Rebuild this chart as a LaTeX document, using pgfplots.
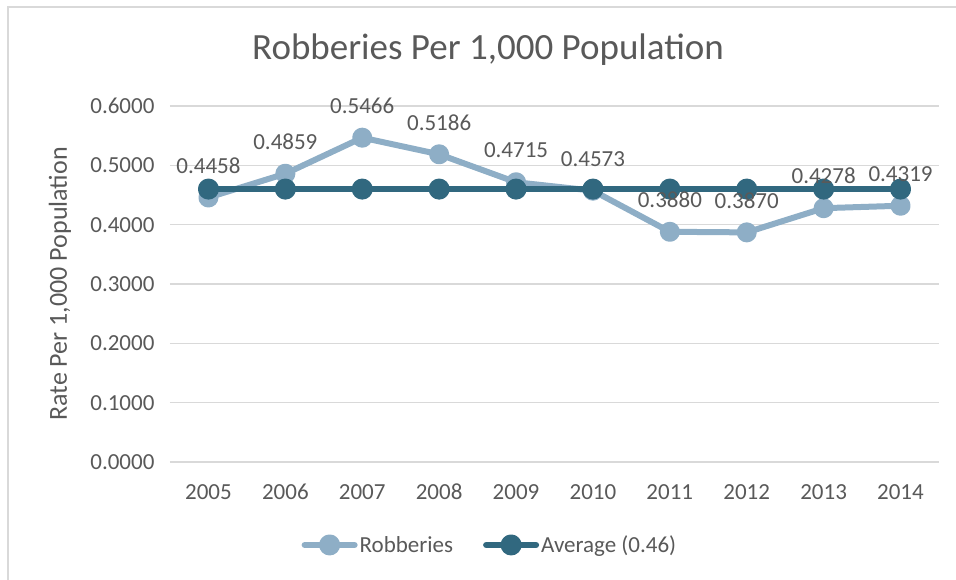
\documentclass[border=0pt]{standalone}
\usepackage{pgfplots}
\pgfplotsset{compat=1.18}
\usepackage{fontspec}
\setmainfont{Carlito}

\definecolor{txt}{HTML}{595959}
\definecolor{gridc}{HTML}{D9D9D9}
\definecolor{robc}{HTML}{8EAEC6}
\definecolor{avgc}{HTML}{31687F}

\pgfplotstableread{
year rate
2005 0.4458
2006 0.4859
2007 0.5466
2008 0.5186
2009 0.4715
2010 0.4573
2011 0.3880
2012 0.3870
2013 0.4278
2014 0.4319
}\robberies

\pgfplotstableread{
year rate
2005 0.46
2006 0.46
2007 0.46
2008 0.46
2009 0.46
2010 0.46
2011 0.46
2012 0.46
2013 0.46
2014 0.46
}\average

\pgfplotsset{
    chartbox/.style={
        at={(170pt,-462pt)}, anchor=south west,
        scale only axis,
        width=769pt, height=356pt,
        xmin=2004.5, xmax=2014.5,
        ymin=0, ymax=0.6,
        /pgf/number format/assume math mode=true,
    },
}

\begin{document}
\begin{tikzpicture}
% pixel coordinates: (x,y) -> (x pt, -y pt)
\begin{axis}[
    chartbox,
    xtick={2005,...,2014},
    ytick={0,0.1,...,0.6},
    xticklabel style={anchor=base, yshift=-37pt, /pgf/number format/1000 sep={}},
    yticklabel style={xshift=-12pt, /pgf/number format/.cd, fixed, fixed zerofill, precision=4},
    tick style={draw=none},
    ticklabel style={font=\fontsize{23}{27}\selectfont, text=txt},
    axis line style={draw=none},
    ymajorgrids, xmajorgrids=false,
    major grid style={draw=gridc, line width=1.5pt},
    ylabel={Rate Per 1,000 Population},
    ylabel style={at={(axis description cs:-0.143,0.5)}, anchor=center,
        font=\fontsize{26}{30}\selectfont, text=txt},
    legend columns=2,
    legend style={at={(axis description cs:0.416,-0.233)}, anchor=center,
        draw=none, fill=none, font=\fontsize{23}{27}\selectfont, text=txt,
        /tikz/every even column/.append style={column sep=28pt}},
    legend image code/.code={
        \draw[#1, line cap=round] (0pt,0pt) -- (50pt,0pt);
        \fill[#1] (25pt,0pt) circle (7.5pt);
    },
]
\addplot[robc, line width=6pt, line join=round, mark=*, mark size=7pt,
    mark options={fill=robc, draw=none}] table[x=year, y=rate] {\robberies};
\addlegendentry{Robberies}
\addplot[avgc, line width=6pt, line join=round, mark=*, mark size=7.5pt,
    mark options={fill=avgc, draw=none}] table[x=year, y=rate] {\average};
\addlegendentry{Average (0.46)}
\end{axis}
% data labels on top of both series
\begin{axis}[chartbox, hide axis, clip=false]
\addplot[draw=none, mark=none,
    nodes near coords={\pgfmathprintnumber[fixed, fixed zerofill, precision=4, assume math mode=true]{\pgfplotspointmeta}},
    every node near coord/.append style={anchor=center, inner sep=0pt, yshift=32pt,
        font=\fontsize{23}{27}\selectfont, text=txt}]
    table[x=year, y=rate] {\robberies};
\end{axis}
\node[text=txt, font=\fontsize{37}{42}\selectfont] at (488pt,-50pt) {Robberies Per 1,000 Population};
\draw[gridc, line width=1.5pt] (8pt,-600pt) -- (8pt,-7pt) -- (970pt,-7pt);
\pgfresetboundingbox
\path[use as bounding box] (0pt,0pt) rectangle (956pt,-580pt);
\end{tikzpicture}
\end{document}
